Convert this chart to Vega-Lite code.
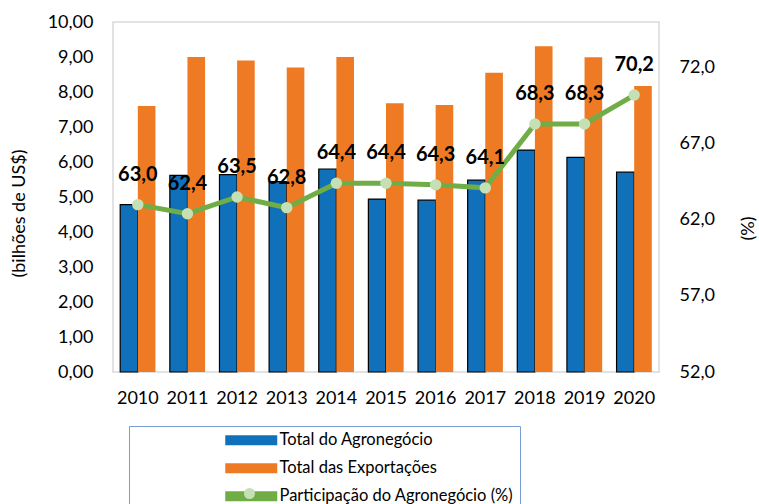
{
  "$schema": "https://vega.github.io/schema/vega-lite/v6.json",
  "width": 546,
  "height": 350,
  "autosize": {"type": "none"},
  "padding": {"left": 113, "top": 22, "right": 100, "bottom": 132},
  "background": "white",
  "config": {
    "locale": {"number": {"decimal": ",", "thousands": ".", "grouping": [3], "currency": ["R$ ", ""]}},
    "font": "Lato",
    "view": {"stroke": "#D9D9D9", "strokeWidth": 1.5},
    "axis": {"grid": false, "ticks": false, "domain": false, "labelFont": "Lato", "labelFontSize": 18, "labelColor": "#000000", "titleFont": "Lato", "titleFontSize": 18, "titleFontWeight": "normal", "titleColor": "#000000"}
  },
  "datasets": {
    "barras": [
      {"ano": 2010, "serie": "Total do Agronegócio", "valor": 4.78},
      {"ano": 2010, "serie": "Total das Exportações", "valor": 7.60},
      {"ano": 2011, "serie": "Total do Agronegócio", "valor": 5.62},
      {"ano": 2011, "serie": "Total das Exportações", "valor": 9.00},
      {"ano": 2012, "serie": "Total do Agronegócio", "valor": 5.64},
      {"ano": 2012, "serie": "Total das Exportações", "valor": 8.90},
      {"ano": 2013, "serie": "Total do Agronegócio", "valor": 5.44},
      {"ano": 2013, "serie": "Total das Exportações", "valor": 8.70},
      {"ano": 2014, "serie": "Total do Agronegócio", "valor": 5.80},
      {"ano": 2014, "serie": "Total das Exportações", "valor": 9.00},
      {"ano": 2015, "serie": "Total do Agronegócio", "valor": 4.94},
      {"ano": 2015, "serie": "Total das Exportações", "valor": 7.68},
      {"ano": 2016, "serie": "Total do Agronegócio", "valor": 4.91},
      {"ano": 2016, "serie": "Total das Exportações", "valor": 7.63},
      {"ano": 2017, "serie": "Total do Agronegócio", "valor": 5.48},
      {"ano": 2017, "serie": "Total das Exportações", "valor": 8.55},
      {"ano": 2018, "serie": "Total do Agronegócio", "valor": 6.34},
      {"ano": 2018, "serie": "Total das Exportações", "valor": 9.31},
      {"ano": 2019, "serie": "Total do Agronegócio", "valor": 6.13},
      {"ano": 2019, "serie": "Total das Exportações", "valor": 8.99},
      {"ano": 2020, "serie": "Total do Agronegócio", "valor": 5.71},
      {"ano": 2020, "serie": "Total das Exportações", "valor": 8.17}
    ],
    "participacao": [
      {"ano": 2010, "serie": "Participação do Agronegócio (%)", "pct": 63.0},
      {"ano": 2011, "serie": "Participação do Agronegócio (%)", "pct": 62.4},
      {"ano": 2012, "serie": "Participação do Agronegócio (%)", "pct": 63.5},
      {"ano": 2013, "serie": "Participação do Agronegócio (%)", "pct": 62.8},
      {"ano": 2014, "serie": "Participação do Agronegócio (%)", "pct": 64.4},
      {"ano": 2015, "serie": "Participação do Agronegócio (%)", "pct": 64.4},
      {"ano": 2016, "serie": "Participação do Agronegócio (%)", "pct": 64.3},
      {"ano": 2017, "serie": "Participação do Agronegócio (%)", "pct": 64.1},
      {"ano": 2018, "serie": "Participação do Agronegócio (%)", "pct": 68.3},
      {"ano": 2019, "serie": "Participação do Agronegócio (%)", "pct": 68.3},
      {"ano": 2020, "serie": "Participação do Agronegócio (%)", "pct": 70.2}
    ]
  },
  "layer": [
    {
      "data": {"name": "barras"},
      "mark": {"type": "bar", "stroke": "#000000"},
      "encoding": {
        "x": {"field": "ano", "type": "nominal", "scale": {"paddingInner": 0.29, "paddingOuter": 0.145}, "axis": {"title": null, "labelAngle": 0, "labelPadding": 17}},
        "xOffset": {"field": "serie", "type": "nominal", "scale": {"domain": ["Total do Agronegócio", "Total das Exportações"]}},
        "y": {"field": "valor", "type": "quantitative", "scale": {"domain": [0, 10]},
          "axis": {"title": "(bilhões de US$)", "format": ".2f", "values": [0, 1, 2, 3, 4, 5, 6, 7, 8, 9, 10], "labelPadding": 20, "titleX": -94, "titleY": 191, "titleAngle": -90, "titleBaseline": "middle"}},
        "color": {"field": "serie", "type": "nominal",
          "scale": {"domain": ["Total do Agronegócio", "Total das Exportações", "Participação do Agronegócio (%)"], "range": ["#1170BA", "#EE7B23", "#70AD47"]},
          "legend": {
            "title": null, "orient": "none", "legendX": 16, "legendY": 404, "direction": "vertical",
            "padding": 6, "strokeColor": "#7A9CD6",
            "symbolType": "M-5.2,-1H5.2V1H-5.2Z", "symbolStrokeWidth": 0,
            "symbolSize": 100, "symbolOffset": 108, "labelOffset": 20, "rowPadding": 11,
            "labelFont": "Lato", "labelFontSize": 16.5, "labelColor": "#000000", "labelLimit": 400,
            "encode": {"symbols": {
              "shape": {"condition": {"test": "datum.value === 'Participação do Agronegócio (%)'", "value": "M-5.7,-0.55H5.7V0.55H-5.7Z"}, "value": "M-5.2,-1H5.2V1H-5.2Z"},
              "stroke": {"condition": {"test": "datum.value === 'Total do Agronegócio'", "value": "#000000"}, "value": "transparent"},
              "strokeWidth": {"condition": {"test": "datum.value === 'Total do Agronegócio'", "value": 1.2}, "value": 0}
            }}
          }},
        "strokeWidth": {"condition": {"test": "datum.serie === 'Total do Agronegócio'", "value": 1.2}, "value": 0}
      }
    },
    {
      "data": {"name": "participacao"},
      "encoding": {
        "x": {"field": "ano", "type": "nominal"},
        "y": {"field": "pct", "type": "quantitative", "scale": {"domain": [52, 75]},
          "axis": {"orient": "right", "title": "(%)", "format": ".1f", "values": [52, 57, 62, 67, 72], "labelPadding": 20, "titleX": 89, "titleY": 206, "titleAngle": -90, "titleBaseline": "middle"}}
      },
      "layer": [
        {
          "mark": {"type": "line", "strokeWidth": 5, "color": "#70AD47"}
        },
        {
          "mark": {"type": "point", "filled": true, "fill": "#C5E0B4", "size": 130, "opacity": 1, "strokeWidth": 0},
          "encoding": {
            "shape": {"field": "serie", "type": "nominal", "scale": {"range": ["circle"]},
              "legend": {"title": null, "orient": "none", "legendX": 16, "legendY": 466, "padding": 0,
                "symbolType": "circle", "symbolSize": 121, "symbolOffset": 115, "symbolFillColor": "#C5E0B4", "symbolStrokeWidth": 0, "symbolOpacity": 1,
                "labelExpr": "''", "labelFontSize": 1}}
          }
        },
        {
          "mark": {"type": "text", "dy": -30, "fontSize": 20, "fontWeight": "bold", "font": "Lato", "color": "#000000"},
          "encoding": {"text": {"field": "pct", "type": "quantitative", "format": ".1f"}}
        }
      ]
    }
  ],
  "resolve": {"scale": {"y": "independent"}}
}
